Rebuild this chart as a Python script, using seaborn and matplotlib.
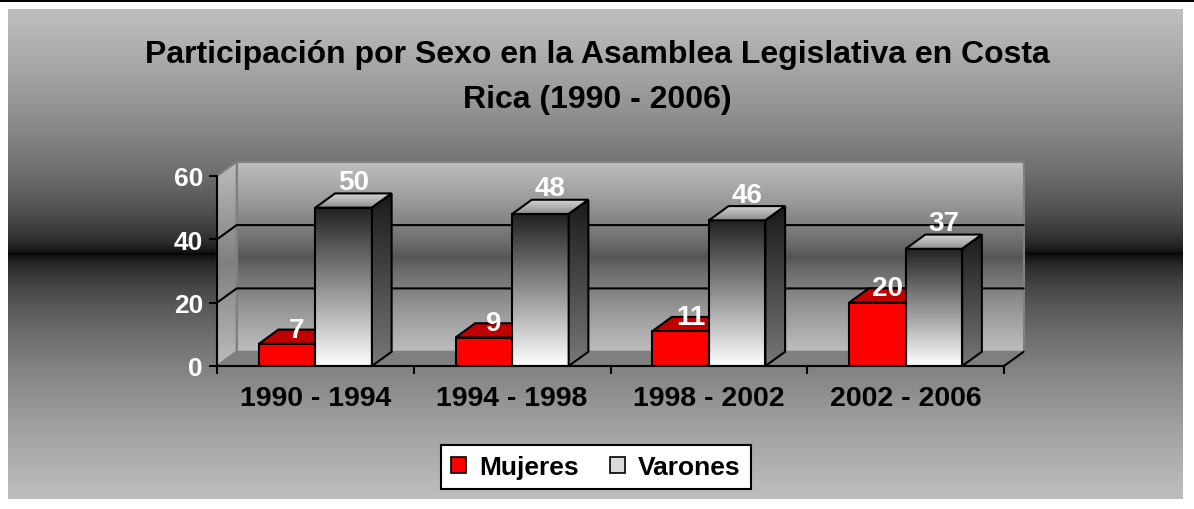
import numpy as np
import pandas as pd
import matplotlib
matplotlib.use("Agg")
import matplotlib.pyplot as plt
import seaborn as sns
from matplotlib.patches import Polygon, Rectangle, Patch

# Data
periods = ["1990 - 1994", "1994 - 1998", "1998 - 2002", "2002 - 2006"]
mujeres = [7, 9, 11, 20]
varones = [50, 48, 46, 37]
series = ["Mujeres", "Varones"]
y_ticks = [0, 20, 40, 60]

df = pd.DataFrame({
    "periodo": periods * 2,
    "sexo": [series[0]] * len(mujeres) + [series[1]] * len(varones),
    "diputados": mujeres + varones,
})

sns.set_theme(style="white")
plt.rcParams["font.family"] = ["Liberation Sans", "DejaVu Sans"]
plt.rcParams["font.weight"] = "bold"
plt.rcParams["text.color"] = "black"

W, H = 1194, 510
fig = plt.figure(figsize=(W / 100, H / 100), dpi=100, facecolor="white")


def vgrad(light, dark, n=256, power=0.6):
    # light at both ends, dark in the middle
    t = np.abs(np.linspace(-1, 1, n)) ** power
    v = dark + (light - dark) * t
    return np.dstack([v, v, v]).reshape(n, 1, 3)


def lin(top, bottom, n=256):
    v = np.linspace(top, bottom, n)
    return np.dstack([v, v, v]).reshape(n, 1, 3)


# gray gradient panel behind the chart
bg = fig.add_axes([8 / W, 10 / H, 1175 / W, 490 / H], zorder=-2)
bg.imshow(vgrad(0.745, 0.0, n=512, power=0.5), aspect="auto", extent=(0, 1, 0, 1),
          interpolation="bilinear")
bg.axis("off")
fig.add_artist(Rectangle((0, 1 - 2.5 / H), 1, 2.5 / H, transform=fig.transFigure,
                         facecolor="black", edgecolor="none"))

ax = fig.add_axes([217 / W, 143 / H, 787 / W, 190 / H])
ax.patch.set_alpha(0)

sns.barplot(data=df, x="periodo", y="diputados", hue="sexo",
            palette=["#ff0000", "#ffffff"], width=0.575, saturation=1,
            edgecolor="black", linewidth=1.5, errorbar=None, legend=False,
            ax=ax, zorder=3)


def grad_fill(poly, img, extent, z):
    ax.add_patch(poly)
    im = ax.imshow(img, extent=extent, aspect="auto", zorder=z, interpolation="bilinear")
    im.set_clip_box(fig.bbox)
    im.set_clip_path(poly)


dx, dy = 0.1, 4.5
x0, x1 = -0.5, len(periods) - 0.5
ymax = y_ticks[-1]

# back wall
back = Polygon([(x0 + dx, dy), (x1 + dx, dy), (x1 + dx, ymax + dy), (x0 + dx, ymax + dy)],
               facecolor="none", edgecolor="#808080", lw=1.5, zorder=1, clip_on=False)
grad_fill(back, vgrad(0.745, 0.33, power=0.8), (x0 + dx, x1 + dx, dy, ymax + dy), 0.9)

# left wall
side = Polygon([(x0, 0), (x0 + dx, dy), (x0 + dx, ymax + dy), (x0, ymax)],
               facecolor="none", edgecolor="#808080", lw=1.5, zorder=1, clip_on=False)
grad_fill(side, vgrad(0.74, 0.5, power=1.0), (x0, x0 + dx, 0, ymax + dy), 0.9)

# floor
ax.add_patch(Polygon([(x0, 0), (x1, 0), (x1 + dx, dy), (x0 + dx, dy)],
                     facecolor="#7f7f7f", edgecolor="#808080", lw=1.5, zorder=1, clip_on=False))
ax.plot([x1, x1 + dx], [0, dy], color="black", lw=1.5, zorder=1.3, clip_on=False)

# gridlines on walls
for v in y_ticks[1:-1]:
    ax.plot([x0, x0 + dx, x1 + dx], [v, v + dy, v + dy], color="black", lw=1.5,
            zorder=1.2, clip_on=False)

# 3D bars
for bar, val in zip(ax.containers[0], mujeres):
    x, w, h = bar.get_x(), bar.get_width(), bar.get_height()
    ax.add_patch(Polygon([(x, h), (x + w, h), (x + w + dx, h + dy), (x + dx, h + dy)],
                         facecolor="#c00000", edgecolor="black", lw=1.5, zorder=2.9, clip_on=False))
    ax.add_patch(Polygon([(x + w, 0), (x + w + dx, dy), (x + w + dx, h + dy), (x + w, h)],
                         facecolor="#900000", edgecolor="black", lw=1.5, zorder=2.9, clip_on=False))
    ax.text(x + w / 2 + dx / 2, h + 0.4, str(val), ha="center", va="bottom",
            color="white", fontsize=20, fontweight="bold", zorder=5)

for bar, val in zip(ax.containers[1], varones):
    x, w, h = bar.get_x(), bar.get_width(), bar.get_height()
    bar.set_facecolor("none")
    front = Polygon([(x, 0), (x + w, 0), (x + w, h), (x, h)], facecolor="none",
                    edgecolor="none", zorder=2.95)
    grad_fill(front, lin(0.13, 1.0), (x, x + w, 0, h), 2.95)
    top = Polygon([(x, h), (x + w, h), (x + w + dx, h + dy), (x + dx, h + dy)],
                  facecolor="none", edgecolor="black", lw=1.5, zorder=3.05, clip_on=False)
    grad_fill(top, lin(0.85, 0.55), (x, x + w + dx, h, h + dy), 3.04)
    rside = Polygon([(x + w, 0), (x + w + dx, dy), (x + w + dx, h + dy), (x + w, h)],
                    facecolor="none", edgecolor="black", lw=1.5, zorder=3.05, clip_on=False)
    grad_fill(rside, lin(0.1, 0.47), (x + w, x + w + dx, 0, h + dy), 3.04)
    ax.text(x + w / 2 + dx / 2, h + 4.0, str(val), ha="center", va="bottom",
            color="white", fontsize=20, fontweight="bold", zorder=5)

# axes
ax.set_xlim(x0, x1)
ax.set_ylim(0, ymax)
ax.set_yticks(y_ticks)
ax.set_xticks(np.arange(len(periods) + 1) - 0.5, minor=True)
ax.set_xlabel("")
ax.set_ylabel("")
ax.tick_params(axis="y", which="major", left=True, length=6, width=1.5, color="black",
               labelcolor="white", labelsize=19, pad=4)
ax.tick_params(axis="x", which="major", bottom=False, length=0, labelsize=20.5, pad=14,
               labelcolor="black")
ax.tick_params(axis="x", which="minor", bottom=True, length=6, width=1.5, color="black")
for lab in ax.get_xticklabels() + ax.get_yticklabels():
    lab.set_fontweight("bold")
for s in ["top", "right"]:
    ax.spines[s].set_visible(False)
for s in ["left", "bottom"]:
    ax.spines[s].set_color("black")
    ax.spines[s].set_linewidth(1.5)
    ax.spines[s].set_zorder(4)

fig.text(0.5, 1 - 77.5 / H,
         "Participación por Sexo en la Asamblea Legislativa en Costa\nRica (1990 - 2006)",
         ha="center", va="center", fontsize=23, fontweight="bold", color="black",
         linespacing=1.62)

handles = [Patch(facecolor="#ff0000", edgecolor="black", lw=1.2),
           Patch(facecolor="#d9d9d9", edgecolor="black", lw=1.2)]
leg = fig.legend(handles=handles, labels=series, loc="center",
                 bbox_to_anchor=(596 / W, 1 - 468 / H), ncol=2, frameon=True,
                 fancybox=False, edgecolor="black", facecolor="white", framealpha=1,
                 prop={"size": 19, "weight": "bold"}, handlelength=0.55, handleheight=0.55,
                 handletextpad=0.5, columnspacing=1.2, borderpad=0.38)
leg.get_frame().set_linewidth(1.5)
for t in leg.get_texts():
    t.set_color("black")

fig.savefig("out.png", dpi=100, facecolor="white")
